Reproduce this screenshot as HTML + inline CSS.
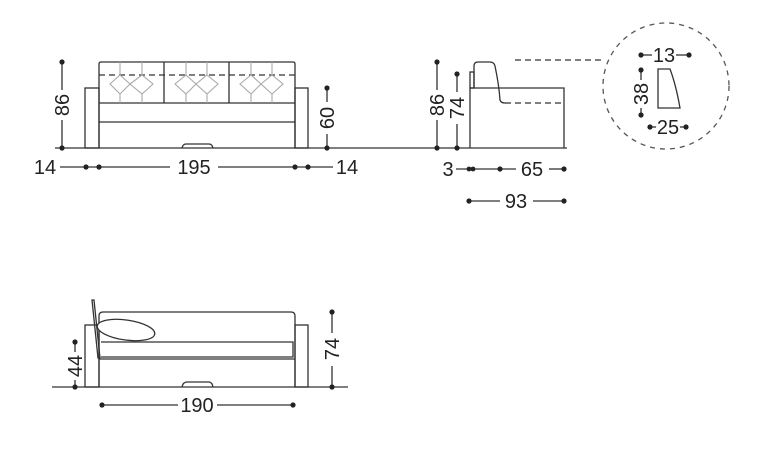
<!DOCTYPE html>
<html><head><meta charset="utf-8"><style>
html,body{margin:0;padding:0;background:#fff;}
svg{display:block}
text{font-family:"Liberation Sans",sans-serif;font-size:20px;fill:#222;}
</style></head><body>
<svg width="768" height="466" viewBox="0 0 768 466" xmlns="http://www.w3.org/2000/svg">
<g fill="none" stroke="#333" stroke-width="1.3">
<line x1="55" y1="148" x2="567" y2="148"/>
<rect x="85" y="88" width="14" height="60"/>
<rect x="295" y="88" width="13" height="60"/>
<path d="M99 148 V64 Q99 62 101 62 H293 Q295 62 295 64 V148"/>
<line x1="99" y1="103" x2="295" y2="103"/>
<line x1="99" y1="122" x2="295" y2="122"/>
<line x1="164" y1="62" x2="164" y2="103"/>
<line x1="229" y1="62" x2="229" y2="103"/>
<line x1="99" y1="75" x2="295" y2="75" stroke-dasharray="6,4"/>
<path d="M182 148 Q183 144 186 144 H209 Q212 144 213 148"/>
<g stroke="#aaa" stroke-width="1.1">
<path d="M110 84 L120 75 L130 84 L120 94 Z M130 84 L142 75 L153 84 L142 94 Z"/>
<path d="M175 84 L186 75 L196 84 L186 94 Z M196 84 L207 75 L218 84 L207 94 Z"/>
<path d="M240 84 L251 75 L261 84 L251 94 Z M261 84 L272 75 L283 84 L272 94 Z"/>
<path d="M120 62 V75 M142 62 V75 M186 62 V75 M207 62 V75 M251 62 V75 M272 62 V75 M120 94 V103 M142 94 V103 M186 94 V103 M207 94 V103 M251 94 V103 M272 94 V103"/>
</g>
<line x1="62" y1="62" x2="62" y2="90"/><line x1="62" y1="120" x2="62" y2="148"/>
<line x1="327" y1="88" x2="327" y2="102"/><line x1="327" y1="134" x2="327" y2="148"/>
<line x1="60" y1="167" x2="99" y2="167"/><line x1="99" y1="167" x2="170" y2="167"/><line x1="218" y1="167" x2="295" y2="167"/><line x1="295" y1="167" x2="333" y2="167"/>
<path d="M470 148 V88 H564 V148"/>
<rect x="470" y="72" width="4" height="16"/>
<path d="M474 88 V66 Q474 62 478 62 H490 Q494 62 495 66 Q499 85 500 100 Q501 103 505 103"/>
<line x1="505" y1="103" x2="564" y2="103" stroke-dasharray="6,4"/>
<line x1="515" y1="60" x2="605" y2="60" stroke-dasharray="6,4"/>
<line x1="437" y1="62" x2="437" y2="90"/><line x1="437" y1="120" x2="437" y2="148"/>
<line x1="457" y1="74" x2="457" y2="92"/><line x1="457" y1="124" x2="457" y2="148"/>
<line x1="456" y1="169" x2="516" y2="169"/><line x1="549" y1="169" x2="564" y2="169"/>
<line x1="469" y1="201" x2="500" y2="201"/><line x1="533" y1="201" x2="564" y2="201"/>
<circle cx="666" cy="86" r="63" stroke-dasharray="5,5" stroke="#555"/>
<path d="M658 108 V69 H670 Q676 85 680 108 Z"/>
<line x1="641" y1="55" x2="652" y2="55"/><line x1="676" y1="55" x2="689" y2="55"/>
<line x1="641" y1="70" x2="641" y2="80"/><line x1="641" y1="108" x2="641" y2="115"/>
<line x1="650" y1="127" x2="656" y2="127"/><line x1="680" y1="127" x2="686" y2="127"/>
<line x1="52" y1="387" x2="348" y2="387"/>
<rect x="85" y="325" width="14" height="62"/>
<rect x="295" y="325" width="13" height="62"/>
<path d="M99 387 V316 Q99 312 103 312 H291 Q295 312 295 316 V387"/>
<path d="M101 342 H293 V357 H101"/>
<line x1="99" y1="359" x2="295" y2="359"/>
<path d="M182 387 Q183 382 187 382 H209 Q212 382 213 387"/>
<path d="M92 300 L94 300 L100 358 L98 358 Z"/>
<ellipse cx="126" cy="330" rx="29" ry="10" transform="rotate(8 126 330)" fill="#fff"/>
<line x1="75" y1="342" x2="75" y2="352"/><line x1="75" y1="380" x2="75" y2="387"/>
<line x1="332" y1="312" x2="332" y2="333"/><line x1="332" y1="366" x2="332" y2="387"/>
<line x1="102" y1="405" x2="178" y2="405"/><line x1="217" y1="405" x2="293" y2="405"/>
</g>
<g fill="#222">
<circle cx="62" cy="62" r="2.6"/><circle cx="62" cy="148" r="2.6"/>
<circle cx="327" cy="88" r="2.6"/><circle cx="327" cy="148" r="2.6"/>
<circle cx="86" cy="167" r="2.6"/><circle cx="99" cy="167" r="2.6"/><circle cx="295" cy="167" r="2.6"/><circle cx="308" cy="167" r="2.6"/>
<circle cx="437" cy="62" r="2.6"/><circle cx="437" cy="148" r="2.6"/>
<circle cx="457" cy="74" r="2.6"/><circle cx="457" cy="148" r="2.6"/>
<circle cx="469" cy="169" r="2.4"/><circle cx="473" cy="169" r="2.4"/><circle cx="500" cy="169" r="2.6"/><circle cx="564" cy="169" r="2.6"/>
<circle cx="469" cy="201" r="2.6"/><circle cx="564" cy="201" r="2.6"/>
<circle cx="641" cy="55" r="2.6"/><circle cx="689" cy="55" r="2.6"/>
<circle cx="641" cy="70" r="2.6"/><circle cx="641" cy="115" r="2.6"/>
<circle cx="650" cy="127" r="2.6"/><circle cx="686" cy="127" r="2.6"/>
<circle cx="75" cy="342" r="2.6"/><circle cx="75" cy="387" r="2.6"/>
<circle cx="332" cy="312" r="2.6"/><circle cx="332" cy="387" r="2.6"/>
<circle cx="102" cy="405" r="2.6"/><circle cx="293" cy="405" r="2.6"/>
</g>
<text x="45" y="174" text-anchor="middle">14</text>
<text x="194" y="174" text-anchor="middle">195</text>
<text x="347" y="174" text-anchor="middle">14</text>
<text transform="translate(69 105) rotate(-90)" text-anchor="middle">86</text>
<text transform="translate(334 118) rotate(-90)" text-anchor="middle">60</text>
<text transform="translate(444 105) rotate(-90)" text-anchor="middle">86</text>
<text transform="translate(464 108) rotate(-90)" text-anchor="middle">74</text>
<text x="448" y="176" text-anchor="middle">3</text>
<text x="532" y="176" text-anchor="middle">65</text>
<text x="516" y="208" text-anchor="middle">93</text>
<text x="664" y="62" text-anchor="middle">13</text>
<text transform="translate(648 94) rotate(-90)" text-anchor="middle">38</text>
<text x="668" y="134" text-anchor="middle">25</text>
<text transform="translate(82 366) rotate(-90)" text-anchor="middle">44</text>
<text transform="translate(339 349) rotate(-90)" text-anchor="middle">74</text>
<text x="197" y="412" text-anchor="middle">190</text>
</svg>
</body></html>
